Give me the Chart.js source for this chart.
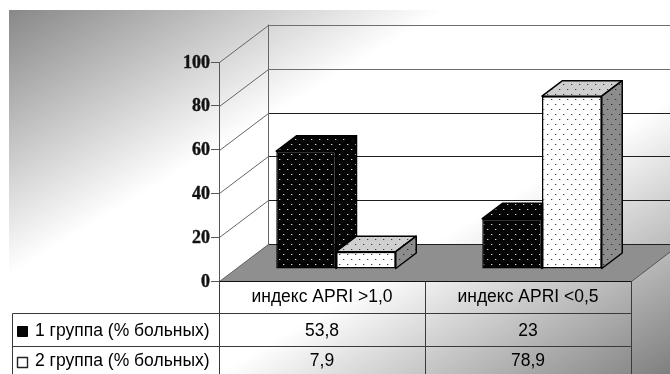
<!DOCTYPE html>
<html>
<head>
<meta charset="utf-8">
<script src="https://cdn.jsdelivr.net/npm/chart.js@4/dist/chart.umd.min.js"></script>
<style>html,body{margin:0;padding:0;background:#fff;overflow:hidden}canvas{display:block}</style>
</head>
<body>
<canvas id="c" width="670" height="374"></canvas>
<script>
const categories = ['индекс APRI >1,0', 'индекс APRI <0,5'];
const seriesNames = ['1 группа (% больных)', '2 группа (% больных)'];
const group1 = [53.8, 23];
const group2 = [7.9, 78.9];
const yTicks = [0, 20, 40, 60, 80, 100];

const WALL = {dx: 49, dy: -37.5};
const BAR_SHIFT = {dx: 14, dy: -12};
const BAR_DEPTH = {dx: 20.5, dy: -15.5};

function dots(bg, dot, halo) {
  const p = document.createElement('canvas');
  p.width = 8; p.height = 10;
  const g = p.getContext('2d');
  g.fillStyle = bg; g.fillRect(0, 0, 8, 10);
  g.fillStyle = halo;
  g.fillRect(2, 1, 1, 1);
  g.fillRect(6, 6, 1, 1);
  g.fillStyle = dot;
  g.fillRect(1, 1, 1, 1);
  g.fillRect(5, 6, 1, 1);
  return p;
}
const ctx0 = document.getElementById('c').getContext('2d');
const pat = (b, d, h) => ctx0.createPattern(dots(b, d, h), 'repeat');
const darkFace = pat('#050505', '#d8d8d8', '#4a4a4a');
const faces = [
  {front: darkFace, top: darkFace, side: darkFace},
  {front: pat('#ffffff', '#3c3c3c', '#c4c4c4'), top: pat('#cfcfcf', '#3c3c3c', '#aaa'), side: pat('#8c8c8c', '#2a2a2a', '#707070')}
];

function poly(c, pts, fill, stroke, lw) {
  c.beginPath();
  pts.forEach((p, i) => i ? c.lineTo(p[0], p[1]) : c.moveTo(p[0], p[1]));
  c.closePath();
  if (fill) { c.fillStyle = fill; c.fill(); }
  if (stroke) { c.strokeStyle = stroke; c.lineWidth = lw; c.lineJoin = 'round'; c.stroke(); }
}
function seg(c, x1, y1, x2, y2, col, lw) {
  c.strokeStyle = col; c.lineWidth = lw || 1;
  c.beginPath(); c.moveTo(x1, y1); c.lineTo(x2, y2); c.stroke();
}

const scene = {
  id: 'scene',
  beforeDraw(chart) {
    const c = chart.ctx, W = chart.width, H = chart.height;
    const a = chart.chartArea, y = chart.scales.y;
    // the tick labels sit 1px lower than the canvas "middle" baseline gives
    if (!y._shifted) {
      const orig = y.drawLabels;
      y.drawLabels = function (area) {
        c.save(); c.translate(0, 1); orig.call(this, area); c.restore();
      };
      y._shifted = true;
    }
    c.save();
    c.fillStyle = '#fff'; c.fillRect(0, 0, W, H);
    const g = c.createLinearGradient(6.8, 11.1, 348, 572);
    g.addColorStop(0, '#888888');
    g.addColorStop(0.345, '#ffffff');
    g.addColorStop(0.64, '#ffffff');
    g.addColorStop(1, '#7e7e7e');
    c.fillStyle = g; c.fillRect(9, 10, W - 9, H - 10);

    const l = Math.round(a.left) + 0.5, r = Math.round(a.right) + 0.5;
    const y0 = Math.round(y.getPixelForValue(0)) + 0.5;
    poly(c, [[l, y0], [l + WALL.dx, y0 + WALL.dy], [r + WALL.dx, y0 + WALL.dy], [r, y0]], '#8f8f8f');
    seg(c, r, y0, r + WALL.dx, y0 + WALL.dy, '#555');
    yTicks.forEach(v => {
      const py = Math.round(y.getPixelForValue(v)) + 0.5;
      const by = Math.round(py + WALL.dy) + 0.5;
      const col = v >= 80 ? '#6e6e6e' : '#1e1e1e';
      seg(c, l + WALL.dx, by, W, by, col);
      seg(c, l, py, l + WALL.dx, by, '#666');
    });
    seg(c, l + WALL.dx, y.getPixelForValue(100) + WALL.dy, l + WALL.dx, y0 + WALL.dy, '#666');
    c.restore();
  },
  beforeDatasetsDraw(chart) {
    const c = chart.ctx;
    [0, 1].forEach(i => {
      const meta = chart.getDatasetMeta(i), f = faces[i];
      c.save();
      c.translate(BAR_SHIFT.dx, BAR_SHIFT.dy);
      meta.data.forEach(b => {
        const L = b.x - b.width / 2, R = b.x + b.width / 2, T = b.y, B = b.base;
        const d = BAR_DEPTH;
        poly(c, [[L, T], [L + d.dx, T + d.dy], [R + d.dx, T + d.dy], [R, T]], f.top, '#000', 1.5);
        poly(c, [[R, T], [R + d.dx, T + d.dy], [R + d.dx, B + d.dy], [R, B]], f.side, '#000', 1.5);
      });
      meta.controller.draw();
      c.restore();
    });
    return false;
  },
  afterDraw(chart) {
    const c = chart.ctx, a = chart.chartArea, H = chart.height;
    const l = Math.round(a.left) + 0.5, r = Math.round(a.right) + 0.5;
    const x = chart.scales.x;
    const mid = Math.round((x.getPixelForValue(0) + x.getPixelForValue(1)) / 2) + 0.5;
    const top = Math.round(a.bottom) + 0.5, r1 = 313.5, r2 = 346.5, t0 = 12.5;
    c.save();
    const col = '#3a3a3a';
    seg(c, l, top, r, top, '#111');
    seg(c, t0, r1, r, r1, col);
    seg(c, t0, r2, r, r2, col);
    seg(c, t0, r1, t0, H, col);
    seg(c, l, top, l, H, col);
    seg(c, mid, top, mid, H, col);
    seg(c, r, top, r, H, col);

    c.font = '17.5px "Liberation Sans"';
    c.textBaseline = 'middle';
    c.fillStyle = '#000';
    const rows = [[group1, 331], [group2, 361]];
    rows.forEach((row, i) => {
      c.textAlign = 'left';
      c.fillText(seriesNames[i], 35, row[1]);
      c.textAlign = 'center';
      row[0].forEach((v, j) => {
        c.fillText(String(v).replace('.', ','), x.getPixelForValue(j), row[1]);
      });
    });
    poly(c, [[17.5, 326.5], [27.5, 326.5], [27.5, 336.5], [17.5, 336.5]], '#050505', '#000', 1);
    poly(c, [[17.5, 357.5], [27.5, 357.5], [27.5, 367.5], [17.5, 367.5]], '#fff', '#222', 1.4);
    c.restore();
  }
};

new Chart(ctx0, {
  type: 'bar',
  data: {
    labels: categories,
    datasets: [
      {label: seriesNames[0], data: group1, backgroundColor: faces[0].front, borderColor: '#000', borderWidth: 1.5, borderSkipped: false},
      {label: seriesNames[1], data: group2, backgroundColor: faces[1].front, borderColor: '#000', borderWidth: 1.5, borderSkipped: false}
    ]
  },
  options: {
    responsive: false,
    animation: false,
    events: [],
    layout: {padding: {left: 0, right: 39, top: 62, bottom: 0}},
    plugins: {legend: {display: false}, tooltip: {enabled: false}, title: {display: false}},
    datasets: {bar: {categoryPercentage: 0.58, barPercentage: 1}},
    scales: {
      x: {
        grid: {display: false},
        border: {display: false},
        afterFit(s) { s.height = 93; },
        ticks: {font: {family: '"Liberation Sans"', size: 17.5}, color: '#000', padding: -2, maxRotation: 0}
      },
      y: {
        min: 0, max: 100,
        afterFit(s) { s.width = 219; },
        grid: {drawOnChartArea: false, color: '#555', tickLength: 8, tickColor: '#555'},
        border: {display: true, color: '#555'},
        ticks: {stepSize: 20, padding: 1, color: '#111', textStrokeColor: '#111', textStrokeWidth: 0.4, font: {family: '"Liberation Serif"', size: 18, weight: 'bold'}}
      }
    }
  },
  plugins: [scene]
});
</script>
</body>
</html>
